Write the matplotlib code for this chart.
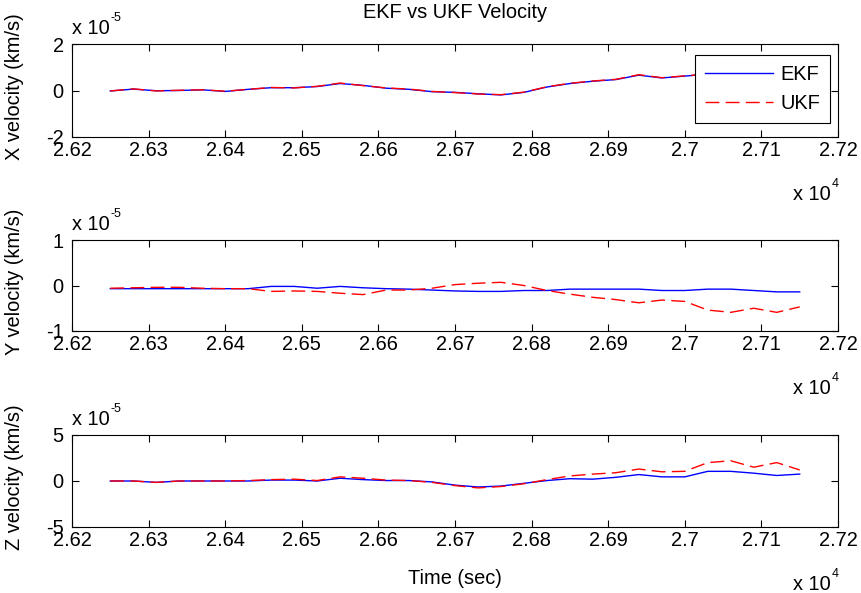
import matplotlib
matplotlib.use("Agg")
import matplotlib.pyplot as plt

plt.rcParams["font.family"] = ["Liberation Sans", "DejaVu Sans"]
plt.rcParams["axes.unicode_minus"] = False

# Filter estimates sampled every 30 s (velocity in units of 1e-5 km/s)
time_s = [26250, 26280, 26310, 26340, 26370, 26400, 26430, 26460, 26490, 26520,
          26550, 26580, 26610, 26640, 26670, 26700, 26730, 26760, 26790, 26820,
          26850, 26880, 26910, 26940, 26970, 27000, 27030, 27060, 27090, 27120,
          27150]

x_ekf = [-0.02, 0.06, -0.01, 0.00, 0.03, -0.04, 0.05, 0.12, 0.12, 0.17,
         0.30, 0.22, 0.10, 0.05, -0.05, -0.08, -0.14, -0.19, -0.08, 0.15,
         0.30, 0.40, 0.47, 0.66, 0.54, 0.62, 0.70, 0.72, 0.75, 0.78, 0.78]
x_ukf = [-0.02, 0.07, -0.02, 0.01, 0.03, -0.03, 0.05, 0.13, 0.11, 0.18,
         0.32, 0.21, 0.11, 0.06, -0.04, -0.09, -0.15, -0.18, -0.07, 0.16,
         0.31, 0.41, 0.48, 0.68, 0.55, 0.63, 0.71, 0.74, 0.76, 0.80, 0.80]

y_ekf = [-0.07, -0.07, -0.07, -0.07, -0.07, -0.07, -0.07, -0.02, -0.02, -0.06,
         -0.02, -0.05, -0.07, -0.08, -0.10, -0.12, -0.13, -0.13, -0.11, -0.11,
         -0.08, -0.08, -0.08, -0.08, -0.11, -0.11, -0.08, -0.08, -0.11, -0.14,
         -0.14]
y_ukf = [-0.06, -0.05, -0.04, -0.04, -0.06, -0.07, -0.07, -0.13, -0.12, -0.13,
         -0.17, -0.20, -0.10, -0.10, -0.06, 0.02, 0.05, 0.07, 0.00, -0.11,
         -0.19, -0.26, -0.31, -0.38, -0.32, -0.35, -0.54, -0.59, -0.50, -0.59,
         -0.47]

z_ekf = [0.00, 0.00, -0.15, 0.00, 0.00, 0.00, 0.00, 0.10, 0.10, 0.00,
         0.30, 0.15, 0.05, 0.05, -0.10, -0.45, -0.65, -0.55, -0.25, 0.05,
         0.25, 0.20, 0.40, 0.70, 0.45, 0.45, 1.05, 1.05, 0.85, 0.60, 0.75]
z_ukf = [0.00, 0.00, -0.15, 0.00, 0.00, 0.00, 0.05, 0.15, 0.20, 0.05,
         0.45, 0.30, 0.10, 0.05, -0.15, -0.50, -0.75, -0.60, -0.30, 0.15,
         0.55, 0.75, 0.90, 1.30, 1.00, 1.05, 2.00, 2.20, 1.50, 2.00, 1.20]

xtick_vals = [26200, 26300, 26400, 26500, 26600, 26700, 26800, 26900, 27000,
              27100, 27200]
xtick_labels = ["2.62", "2.63", "2.64", "2.65", "2.66", "2.67", "2.68", "2.69",
                "2.7", "2.71", "2.72"]

panel_labels = ["X velocity (km/s)", "Y velocity (km/s)", "Z velocity (km/s)"]
panel_ylims = [(-2, 2), (-1, 1), (-5, 5)]
panel_yticks = [[-2, 0, 2], [-1, 0, 1], [-5, 0, 5]]
panel_series = [(x_ekf, x_ukf), (y_ekf, y_ukf), (z_ekf, z_ukf)]

W, H = 861, 593
FS = 14.4
SUP = 9.0

fig = plt.figure(figsize=(W / 100, H / 100), dpi=100)
fig.patch.set_facecolor("white")

ax_left, ax_right = 72, 838
boxes = [(44, 137), (240, 331), (435, 527)]

axes = []
for (top, bot), label, ylim, yt, (ekf, ukf) in zip(
        boxes, panel_labels, panel_ylims, panel_yticks, panel_series):
    ax = fig.add_axes([ax_left / W, 1 - bot / H,
                       (ax_right - ax_left) / W, (bot - top) / H])
    ax.plot(time_s, ekf, color="blue", lw=1.0, label="EKF")
    ax.plot(time_s, ukf, color="red", lw=1.0, dashes=(10, 4.5), label="UKF")
    ax.set_xlim(26200, 27200)
    ax.set_ylim(*ylim)
    ax.set_xticks(xtick_vals)
    ax.set_xticklabels(xtick_labels)
    ax.set_yticks(yt)
    ax.set_yticklabels([str(v) for v in yt])
    ax.tick_params(direction="in", top=True, right=True, length=5, width=0.8,
                   labelsize=FS, colors="black")
    ax.tick_params(axis="x", pad=3)
    ax.tick_params(axis="y", pad=6)
    for sp in ax.spines.values():
        sp.set_linewidth(0.8)
        sp.set_color("black")
    fig.text(15 / W, 1 - ((top + bot) / 2 - 4) / H, label, rotation=90,
             ha="center", va="center", fontsize=FS)
    axes.append(ax)

leg = axes[0].legend(loc="upper right", bbox_to_anchor=(0.9895, 0.882),
                     borderaxespad=0, fancybox=False, framealpha=1,
                     edgecolor="black", fontsize=FS, handlelength=3.4,
                     handletextpad=0.35, borderpad=0.5, labelspacing=0.5)
leg.get_frame().set_linewidth(0.8)

fig.text(455 / W, 1 - 18 / H, "EKF vs UKF Velocity", ha="center",
         va="baseline", fontsize=FS)
fig.text(455 / W, 1 - 584 / H, "Time (sec)", ha="center", va="baseline",
         fontsize=FS)

# Exponent annotations: "x 10" followed by a raised power
exp_texts = []
for top, bot in boxes:
    exp_texts.append((fig.text(72 / W, 1 - (top - 10) / H, "x 10", ha="left",
                               va="baseline", fontsize=FS), "-5", top - 10))
    exp_texts.append((fig.text(793 / W, 1 - (bot + 63) / H, "x 10", ha="left",
                               va="baseline", fontsize=FS), "4", bot + 63))

fig.canvas.draw()
renderer = fig.canvas.get_renderer()
for t, power, base in exp_texts:
    bb = t.get_window_extent(renderer)
    fig.text((bb.x1 + 1) / W, 1 - (base - 13) / H, power, ha="left",
             va="baseline", fontsize=SUP)

fig.savefig("out.png", dpi=100, facecolor="white")
